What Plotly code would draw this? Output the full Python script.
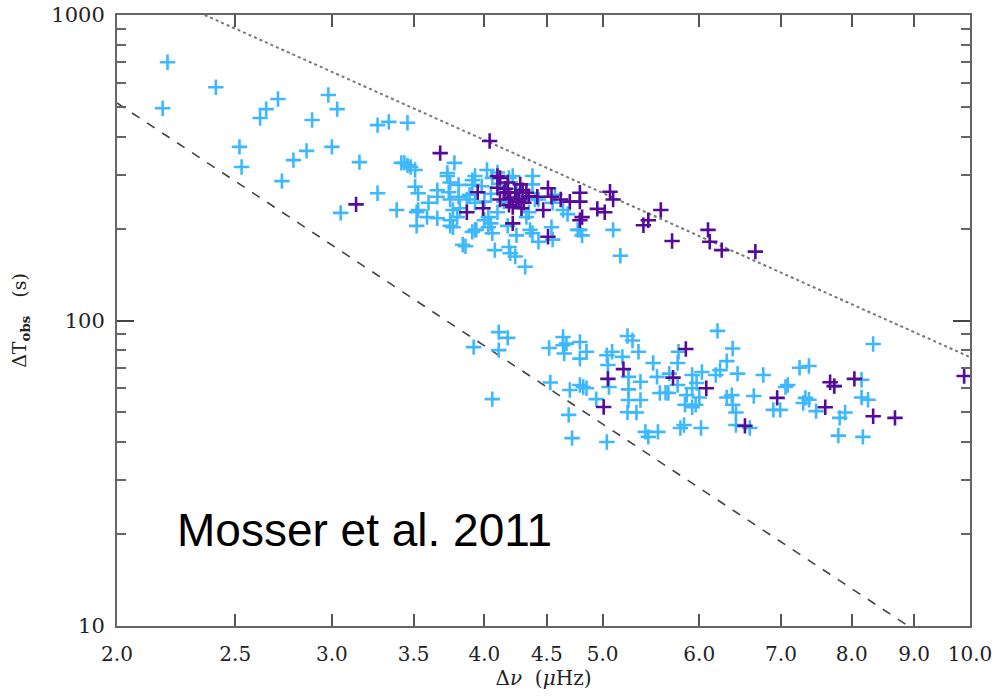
import plotly.graph_objects as go
import numpy as np

# Light-blue sample (Delta nu [muHz], Delta T_obs [s])
nu_blue = [2.20, 2.18, 2.41, 2.52, 2.53, 2.71, 2.65, 2.62, 2.98, 3.03, 2.89, 3.27, 3.34, 3.46,
           2.79, 2.86, 3.00, 2.73, 3.16, 3.27, 3.05, 3.39, 3.42, 3.46,
           3.51, 3.48, 3.51, 3.53, 3.52, 3.52, 3.60, 3.59, 3.66, 3.66, 3.66, 3.73, 3.75, 3.74,
           3.75, 3.77, 3.75, 3.75, 3.81, 3.81, 3.82, 3.80, 3.84, 3.87, 3.89, 3.91, 3.93, 3.93,
           3.91, 3.93, 4.00, 4.03, 4.02, 4.06, 4.03, 4.06, 4.08, 4.10, 4.19, 4.22, 4.38, 5.10,
           5.17, 4.79, 4.81, 4.77, 4.64, 4.68, 4.55, 4.57, 4.54, 4.55, 4.43, 4.38, 4.36, 4.33,
           4.35, 4.32, 4.24, 4.19, 4.20, 4.25, 4.18, 4.05, 3.94, 3.86, 3.77, 3.53, 4.38, 4.43,
           4.40, 3.91, 3.73, 3.78, 3.44, 4.12, 4.15, 4.25, 4.28, 4.05, 4.00, 3.98, 4.10,
           4.11, 4.18, 3.92, 4.11, 4.06, 4.52, 4.64, 4.64, 4.65, 4.67, 4.79, 4.85, 4.79, 5.24,
           5.29, 5.35, 5.04, 5.09, 5.19, 5.05, 5.06, 5.25, 5.37, 5.25, 5.25, 5.37, 5.24, 5.33,
           4.94, 4.82, 4.85, 4.79, 4.70, 4.53, 4.69, 4.72, 5.04, 5.42, 5.45, 5.55, 5.50, 5.54,
           5.57, 5.63, 5.66, 5.77, 5.76, 5.76, 5.67, 5.86, 5.84, 5.92, 5.83, 5.79, 6.02, 5.92,
           6.03, 5.97, 5.92, 6.21, 6.39, 6.32, 6.45, 6.24, 6.19, 6.32, 6.38, 6.39, 6.43, 6.43,
           6.60, 6.65, 6.77, 6.90, 6.99, 7.06, 7.09, 7.25, 7.38, 7.33, 7.30, 7.38, 7.48, 7.74,
           8.15, 8.33, 8.15, 8.25, 7.90, 7.82, 7.80, 8.17, 5.96, 6.00]
T_blue = [700, 495, 580, 370, 318, 531, 492, 460, 547, 492, 453, 436, 447, 444,
          335, 359, 370, 286, 330, 261, 225, 230, 328, 322,
          311, 318, 274, 261, 226, 204, 243, 218, 216, 267, 254, 304, 283, 263,
          249, 230, 213, 204, 278, 254, 233, 218, 177, 249, 258, 288, 297, 243,
          195, 198, 213, 202, 311, 293, 218, 193, 170, 226, 293, 297, 297, 198,
          163, 198, 190, 198, 230, 223, 243, 258, 202, 184, 181, 193, 198, 218,
          226, 150, 162, 174, 166, 190, 204, 208, 198, 175, 202, 230, 279, 249,
          249, 278, 297, 328, 328, 280, 245, 270, 255, 260, 245, 275, 305,
          91.6, 87.7, 81.8, 80, 55.3, 81.3, 88.3, 83, 78, 84, 85, 79, 75, 89,
          86, 79, 77, 79, 76, 71.5, 60.6, 65.4, 63, 59.5, 54.9, 54.9, 50.1, 50,
          55.3, 60.6, 60, 61.5, 59.2, 62.7, 49.1, 41.2, 40, 43.2, 41.6, 43.2, 72.6, 65.4,
          57.9, 58, 57.9, 79, 72.6, 61.5, 67, 57, 53, 52, 45.5, 44.5, 44.5, 66.3,
          67.8, 62.4, 60, 92.5, 81, 73.6, 67, 68.8, 66.3, 56, 57, 53, 50, 45.5,
          44.5, 56.6, 66.3, 51, 51, 60.6, 61.5, 70, 71, 55.8, 53.7, 55, 50.5, 61,
          64, 83.8, 56, 55, 50, 48, 42, 41.6, 53, 56]

# Dark-purple sample
nu_purple = [3.14, 4.04, 3.68, 3.87, 3.95, 3.99, 4.10, 4.10, 4.18, 4.15, 4.12, 4.20, 4.24, 4.27,
             4.28, 4.30, 4.19, 4.22, 4.31, 4.29, 4.18, 4.12, 4.42, 4.51, 4.54, 4.47, 4.62, 4.70,
             4.79, 4.79, 4.81, 4.79, 4.22, 4.51, 4.95, 5.02, 5.07, 5.10, 5.40, 5.45, 5.58, 5.70,
             6.10, 6.12, 6.26, 6.67, 4.25, 4.35, 4.16, 4.33,
             5.20, 5.05, 5.01, 5.71, 5.85, 6.08, 6.54, 6.95, 7.61, 7.68, 7.74, 8.04, 8.33, 8.68, 9.89]
T_purple = [240, 387, 353, 226, 263, 233, 297, 272, 283, 262, 249, 252, 262, 245,
            279, 267, 239, 235, 243, 233, 263, 293, 254, 271, 254, 230, 249, 245,
            262, 245, 218, 213, 208, 188, 232, 226, 264, 249, 205, 213, 230, 182,
            198, 181, 170, 168, 250, 255, 270, 262,
            69.3, 64.4, 52.1, 65, 80.7, 60, 45.2, 55.8, 52, 62.8, 61, 64.4, 48.6, 48, 65.8]

# Reference lines (end points)
dotted_nu = [2.36, 10.0]
dotted_T = [1000, 75.9]
dashed_nu = [2.0, 8.9]
dashed_T = [515, 10]

x_ticks = [2.0, 2.5, 3.0, 3.5, 4.0, 4.5, 5.0, 6.0, 7.0, 8.0, 9.0, 10.0]
x_ticktext = ["2.0", "2.5", "3.0", "3.5", "4.0", "4.5", "5.0", "6.0", "7.0", "8.0", "9.0", "10.0"]
y_ticks = [10, 100, 1000]
y_minor = [20, 30, 40, 50, 60, 70, 80, 90, 200, 300, 400, 500, 600, 700, 800, 900]

BLUE = "#3db8ff"
PURPLE = "#560b98"
serif = "DejaVu Serif"

fig = go.Figure()
fig.add_trace(go.Scatter(x=dotted_nu, y=dotted_T, mode="lines",
                         line=dict(color="#777777", width=2, dash="dot"), hoverinfo="skip"))
fig.add_trace(go.Scatter(x=dashed_nu, y=dashed_T, mode="lines",
                         line=dict(color="#444444", width=1.6, dash="dash"), hoverinfo="skip"))
fig.add_trace(go.Scatter(x=nu_blue, y=T_blue, mode="markers",
                         marker=dict(symbol="cross-thin", size=11,
                                     line=dict(color=BLUE, width=2.6))))
fig.add_trace(go.Scatter(x=nu_purple, y=T_purple, mode="markers",
                         marker=dict(symbol="cross-thin", size=11,
                                     line=dict(color=PURPLE, width=2.6))))

fig.add_annotation(x=np.log10(2.23), y=np.log10(20.6), xref="x", yref="y",
                   text="Mosser et al. 2011", showarrow=False, xanchor="left", yanchor="middle",
                   font=dict(family="Liberation Sans, Arial", size=46, color="black"))

fig.update_layout(
    width=999, height=696,
    margin=dict(l=117, r=29, t=15, b=70, autoexpand=False),
    paper_bgcolor="white", plot_bgcolor="white",
    showlegend=False,
    xaxis=dict(type="log", range=[np.log10(2.0), 1.0], tickvals=x_ticks, ticktext=x_ticktext,
               ticks="inside", ticklen=12, tickwidth=1.5, tickcolor="#555555",
               showline=True, linecolor="#666666", linewidth=2, mirror="ticks",
               showgrid=False, zeroline=False, ticklabelstandoff=9, automargin=False,
               tickfont=dict(family=serif, size=20, color="#222222"),
               title=dict(text="Δ<i>ν</i>  (<i>μ</i>Hz)", standoff=2,
                          font=dict(family=serif, size=20, color="#222222"))),
    yaxis=dict(type="log", range=[1.0, 3.0], tickvals=y_ticks, ticktext=["10", "100", "1000"],
               ticks="inside", ticklen=17, tickwidth=1.5, tickcolor="#444444",
               minor=dict(tickvals=y_minor, ticks="inside", ticklen=9, tickwidth=1.5,
                          tickcolor="#666666", showgrid=False),
               showline=True, linecolor="#666666", linewidth=2, mirror="ticks",
               showgrid=False, zeroline=False, ticklabelstandoff=6, automargin=False,
               tickfont=dict(family=serif, size=21, color="#222222"),
               title=dict(text="ΔT<sub><b>obs</b></sub>   (s)", standoff=20,
                          font=dict(family=serif, size=19, color="#222222"))),
)

fig.write_html("out.html")
